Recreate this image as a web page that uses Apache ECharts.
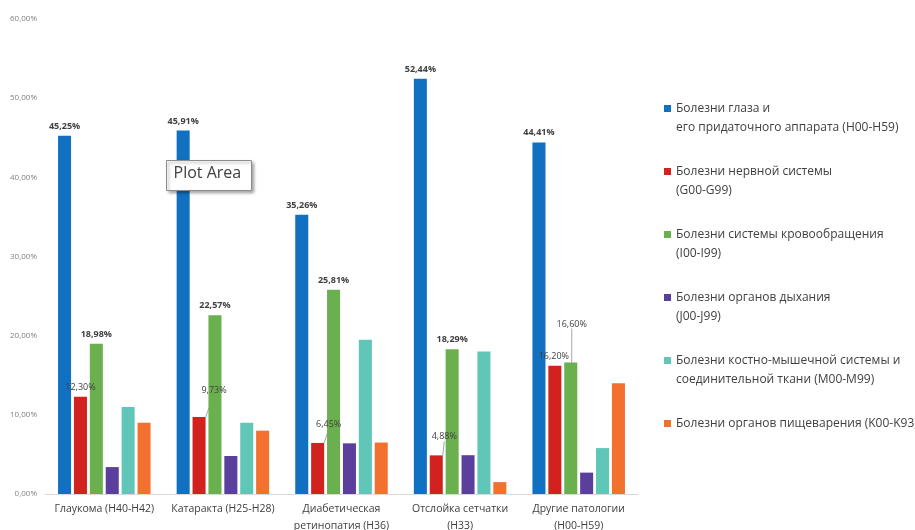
<!DOCTYPE html>
<html>
<head>
<meta charset="utf-8">
<script src="https://cdn.jsdelivr.net/npm/echarts@6/dist/echarts.min.js"></script>
<style>
    html, body { margin: 0; padding: 0; background: #fff; }
    #chart { width: 915px; height: 530px; }
</style>
</head>
<body>
<div id="chart"></div>
<script>
// категории (ось X)
const categories = [
    'Глаукома (H40-H42)',
    'Катаракта (H25-H28)',
    'Диабетическая\nретинопатия (H36)',
    'Отслойка сетчатки\n(H33)',
    'Другие патологии\n(H00-H59)'
]
const seriesNames = [
    'Болезни глаза и\nего придаточного аппарата (H00-H59)',
    'Болезни нервной системы\n(G00-G99)',
    'Болезни системы кровообращения\n(I00-I99)',
    'Болезни органов дыхания\n(J00-J99)',
    'Болезни костно-мышечной системы и\nсоединительной ткани (M00-M99)',
    'Болезни органов пищеварения (K00-K93)'
]
// значения, %
const eyeValues = [45.25, 45.91, 35.26, 52.44, 44.41]
const nervousValues = [12.30, 9.73, 6.45, 4.88, 16.20]
const bloodValues = [18.98, 22.57, 25.81, 18.29, 16.60]
const breathValues = [3.4, 4.8, 6.4, 4.9, 2.7]
const boneValues = [11.0, 9.0, 19.5, 18.0, 5.8]
const digestValues = [9.0, 8.0, 6.5, 1.5, 14.0]
const yTicks = [0, 10, 20, 30, 40, 50, 60]

const colors = ['#1170c0', '#d1221f', '#6bb04f', '#5a3f9d', '#5fc6b8', '#f2712f']
// смещения подписей с выносками
const nervousOffsets = [[0, 0], [15, -17], [11, -9], [8, -9], [-1, 0]]
const bloodOffsets = [[0, 0], [0, 0], [0, 0], [0, 0], [1, -29]]

const fmt = v => v.toFixed(2).replace('.', ',') + '%'
const textColor = '#404040'

const chart = echarts.init(document.getElementById('chart'))

const labelBase = {
    show: true,
    position: 'top',
    distance: 5,
    fontFamily: 'Open Sans',
    fontSize: 9,
    color: textColor,
    formatter: p => fmt(p.value)
}
const lineStyle = { color: '#a6a6a6', width: 1 }

function plainSeries(i, values, extra){
    return Object.assign({
        name: seriesNames[i],
        type: 'bar',
        barGap: '22%',
        barCategoryGap: '22%',
        itemStyle: { color: colors[i] },
        data: values
    }, extra || {})
}

// легенда: значок у первой строки — пустая строка сверху, текст из 3 строк
const legendTop = 80
const legendStep = 63
const legends = seriesNames.map((name, i) => ({
    data: [name],
    left: 664,
    top: legendTop + i * legendStep,
    padding: 0,
    orient: 'vertical',
    itemWidth: 7,
    itemHeight: 7,
    icon: 'rect',
    selectedMode: false,
    formatter: n => n.indexOf('\n') >= 0 ? ' \n' + n : ' \n' + n + '\n ',
    textStyle: {
        fontFamily: 'Open Sans',
        fontSize: 12,
        color: textColor,
        lineHeight: 19
    }
}))

const option = {
    animation: false,
    backgroundColor: '#fff',
    grid: { left: 45, right: 277, top: 19, bottom: 36, outerBoundsMode: 'none' },
    legend: legends,
    xAxis: {
        type: 'category',
        data: categories,
        axisLine: { lineStyle: { color: '#d9d9d9' } },
        axisTick: { show: false },
        axisLabel: {
            fontFamily: 'Open Sans',
            fontSize: 10.5,
            color: textColor,
            lineHeight: 16.5,
            margin: 7,
            interval: 0
        }
    },
    yAxis: {
        type: 'value',
        min: yTicks[0],
        max: yTicks[yTicks.length - 1],
        interval: 10,
        splitLine: { show: false },
        axisLine: { show: false },
        axisTick: { show: false },
        axisLabel: {
            fontFamily: 'Open Sans',
            fontSize: 8,
            color: '#7f7f7f',
            margin: 8,
            formatter: v => fmt(v)
        }
    },
    graphic: [{
        type: 'group',
        left: 166,
        top: 160,
        z: 100,
        children: [{
            type: 'rect',
            z: 100,
            shape: { x: 0, y: 0, width: 85, height: 30 },
            style: {
                fill: '#fff',
                stroke: '#8c8c8c',
                lineWidth: 1,
                shadowBlur: 3,
                shadowOffsetX: 2,
                shadowOffsetY: 2,
                shadowColor: 'rgba(0,0,0,0.35)'
            }
        }, {
            type: 'text',
            z: 101,
            x: 7,
            y: 5,
            style: {
                text: 'Plot Area',
                font: '16px "Open Sans"',
                fill: textColor
            }
        }]
    }],
    series: [
        plainSeries(0, eyeValues, {
            label: Object.assign({}, labelBase, { fontWeight: 'bold' })
        }),
        plainSeries(1, nervousValues.map((v, k) => ({
            value: v,
            labelLine: { show: nervousOffsets[k][0] !== 0 && nervousOffsets[k][1] !== 0 }
        })), {
            label: labelBase,
            labelLine: { lineStyle: lineStyle },
            labelLayout: p => ({ dx: nervousOffsets[p.dataIndex][0], dy: nervousOffsets[p.dataIndex][1] })
        }),
        plainSeries(2, bloodValues.map((v, k) => ({
            value: v,
            label: { fontWeight: k === 4 ? 'normal' : 'bold' },
            labelLine: { show: bloodOffsets[k][1] !== 0 }
        })), {
            label: Object.assign({}, labelBase, { fontWeight: 'bold' }),
            labelLine: { lineStyle: lineStyle },
            labelLayout: p => ({ dx: bloodOffsets[p.dataIndex][0], dy: bloodOffsets[p.dataIndex][1] })
        }),
        plainSeries(3, breathValues),
        plainSeries(4, boneValues),
        plainSeries(5, digestValues)
    ]
}

chart.setOption(option)
</script>
</body>
</html>
